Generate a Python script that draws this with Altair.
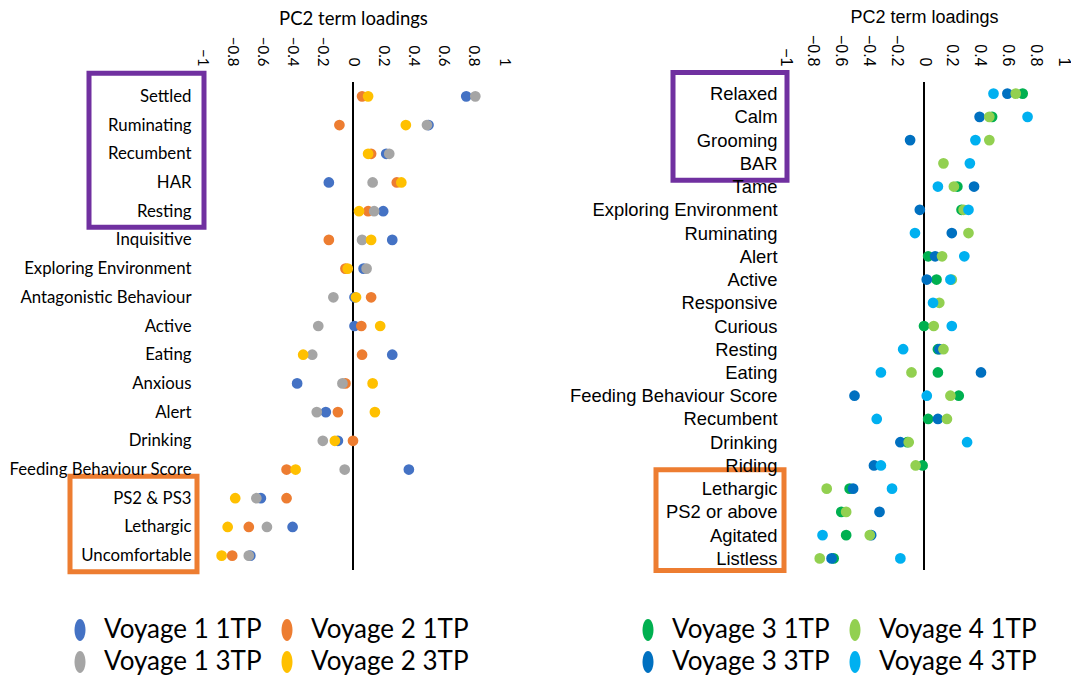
import altair as alt
import pandas as pd

# ---------------- data ----------------
terms_left = ["Settled", "Ruminating", "Recumbent", "HAR", "Resting", "Inquisitive",
              "Exploring Environment", "Antagonistic Behaviour", "Active", "Eating",
              "Anxious", "Alert", "Drinking", "Feeding Behaviour Score", "PS2 & PS3",
              "Lethargic", "Uncomfortable"]
v1_1tp = [0.75, 0.50, 0.22, -0.16, 0.20, 0.26, 0.07, 0.01, 0.01, 0.26, -0.37, -0.18, -0.10, 0.37, -0.61, -0.40, -0.68]
v2_1tp = [0.06, -0.09, 0.12, 0.29, 0.10, -0.16, -0.05, 0.12, 0.055, 0.06, -0.05, -0.10, 0.00, -0.44, -0.44, -0.69, -0.80]
v1_3tp = [0.81, 0.49, 0.24, 0.13, 0.14, 0.06, 0.09, -0.13, -0.23, -0.27, -0.07, -0.24, -0.20, -0.055, -0.64, -0.57, -0.69]
v2_3tp = [0.10, 0.35, 0.10, 0.32, 0.04, 0.12, -0.035, 0.02, 0.18, -0.33, 0.13, 0.145, -0.12, -0.38, -0.78, -0.83, -0.87]

terms_right = ["Relaxed", "Calm", "Grooming", "BAR", "Tame", "Exploring Environment",
               "Ruminating", "Alert", "Active", "Responsive", "Curious", "Resting", "Eating",
               "Feeding Behaviour Score", "Recumbent", "Drinking", "Riding", "Lethargic",
               "PS2 or above", "Agitated", "Listless"]
N = None
v3_1tp = [0.71, 0.49, N, N, 0.24, 0.27, N, 0.03, 0.09, N, 0.00, 0.10, 0.10, 0.25, 0.03, -0.12, -0.01, -0.535, -0.595, -0.56, -0.65]
v3_3tp = [0.60, 0.40, -0.10, N, 0.36, -0.03, 0.20, 0.08, 0.02, N, N, 0.11, 0.41, -0.50, 0.10, -0.17, -0.36, -0.51, -0.32, -0.38, -0.665]
v4_1tp = [0.66, 0.47, 0.47, 0.14, 0.215, 0.285, 0.32, 0.13, 0.20, 0.11, 0.07, 0.14, -0.09, 0.19, 0.165, -0.11, -0.06, -0.70, -0.56, -0.39, -0.75]
v4_3tp = [0.50, 0.745, 0.37, 0.33, 0.10, 0.32, -0.065, 0.29, 0.19, 0.065, 0.20, -0.15, -0.31, 0.02, -0.34, 0.31, -0.31, -0.23, N, -0.73, -0.17]

tick_values = [-1, -0.8, -0.6, -0.4, -0.2, 0, 0.2, 0.4, 0.6, 0.8, 1]

# drawing order (later on top)
left_series = ["Voyage 1 1TP", "Voyage 2 1TP", "Voyage 1 3TP", "Voyage 2 3TP"]
left_values = [v1_1tp, v2_1tp, v1_3tp, v2_3tp]
# legend order (filled column by column)
left_legend = ["Voyage 1 1TP", "Voyage 1 3TP", "Voyage 2 1TP", "Voyage 2 3TP"]
left_colors = ["#4472C4", "#A5A5A5", "#ED7D31", "#FFC000"]

right_draw = ["Voyage 3 1TP", "Voyage 3 3TP", "Voyage 4 1TP", "Voyage 4 3TP"]
right_values = [v3_1tp, v3_3tp, v4_1tp, v4_3tp]
right_legend = ["Voyage 3 1TP", "Voyage 3 3TP", "Voyage 4 1TP", "Voyage 4 3TP"]
right_colors = ["#00B050", "#0070C0", "#92D050", "#00B0F0"]

left_boxes = [("Settled", "Resting", "#7030A0"), ("PS2 & PS3", "Uncomfortable", "#ED7D31")]
right_boxes = [("Relaxed", "BAR", "#7030A0"), ("Lethargic", "Listless", "#ED7D31")]

ELLIPSE = "M0,-1A0.5,1,0,1,1,0,1A0.5,1,0,1,1,0,-1Z"


def make_df(terms, names, values):
    rows = []
    idx = 0
    for name, vals in zip(names, values):
        for t, v in zip(terms, vals):
            if v is not None:
                rows.append({"term": t, "series": name, "value": v, "idx": idx})
                idx += 1
    return pd.DataFrame(rows)


def panel(terms, names, values, legend_order, colors, boxes, box_geom,
          width, height, font, label_size, tick_size, title_size, y_pad, legend_x):
    df = make_df(terms, names, values)
    xscale = alt.Scale(domain=[-1, 1], nice=False, zero=False)
    xaxis = alt.Axis(orient="top", values=tick_values, format=".1~f", labelAngle=90,
                     labelAlign="right", labelBaseline="middle", title="PC2 term loadings",
                     ticks=False, domain=False, grid=False, labelPadding=16, titlePadding=8,
                     labelFont=font, labelFontSize=tick_size, labelColor="black",
                     titleFont=font, titleFontSize=title_size, titleFontWeight="normal",
                     titleColor="black")
    yscale = alt.Scale(type="point", domain=terms, padding=0.5)
    yaxis = alt.Axis(title=None, ticks=False, domain=False, grid=False, labelPadding=y_pad,
                     labelFont=font, labelFontSize=label_size, labelColor="black",
                     labelLimit=400)

    pts = alt.Chart(df).mark_circle(size=115, opacity=1).encode(
        x=alt.X("value:Q", scale=xscale, axis=xaxis),
        y=alt.Y("term:N", scale=yscale, axis=yaxis),
        color=alt.Color("series:N",
                        scale=alt.Scale(domain=legend_order, range=colors),
                        legend=alt.Legend(title=None, orient="none", legendX=legend_x,
                                          legendY=535, columns=2, symbolType=ELLIPSE,
                                          symbolSize=480, symbolStrokeWidth=0,
                                          symbolOpacity=1, labelFont="Lato",
                                          labelFontSize=26, labelColor="black",
                                          labelOffset=11, columnPadding=12,
                                          rowPadding=6, padding=0)),
        order=alt.Order("idx:Q"),
    )

    zero = alt.Chart(pd.DataFrame({"v": [0]})).mark_rule(color="black", strokeWidth=2).encode(
        x=alt.X("v:Q", scale=xscale, axis=xaxis)
    )

    layers = []
    for (start, end, col), (x0, x1, off0, off1) in zip(boxes, box_geom):
        bdf = pd.DataFrame({"start": [start], "end": [end]})
        layers.append(
            alt.Chart(bdf).mark_rect(fillOpacity=0, stroke=col, strokeWidth=5,
                                     yOffset=off0, y2Offset=off1).encode(
                y=alt.Y("start:N", scale=yscale, axis=yaxis),
                y2="end:N",
                x=alt.value(x0), x2=alt.value(x1),
            )
        )
    return alt.layer(*layers, zero, pts).properties(width=width, height=height)


left = panel(terms_left, left_series, left_values, left_legend, left_colors, left_boxes,
             [(-113, 2, -23, 16), (-132, -5, -22, 16)],
             302, 488, "Lato", 16.8, 15, 18.5, 11, -135)

right = panel(terms_right, right_draw, right_values, right_legend, right_colors, right_boxes,
              [(-112, 2, -21, 17), (-129, -1, -19, 12)],
              278, 488, "Liberation Sans", 18.4, 16, 18, 8, -150)

chart = alt.hconcat(left, right, spacing=58).resolve_scale(
    x="independent", y="independent", color="independent"
).resolve_legend(color="independent").properties(
    padding={"left": 0, "top": 0, "right": 0, "bottom": 0}
).configure_view(stroke=None)

chart.save("out.html", embed_options={"renderer": "svg", "actions": False})
